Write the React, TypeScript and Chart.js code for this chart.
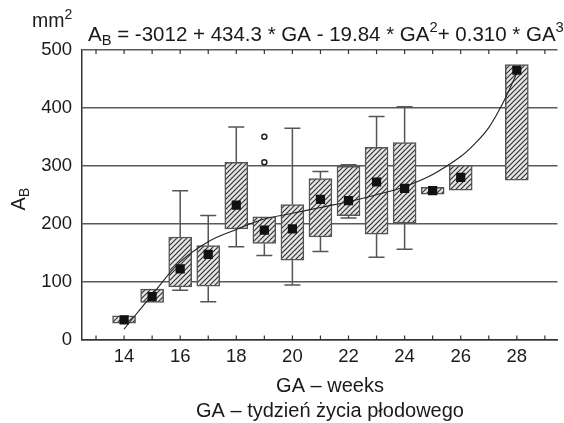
import { useEffect, useRef } from "react";
import { Chart, registerables } from "chart.js";
Chart.register(...registerables);

const weeks = [14, 15, 16, 17, 18, 19, 20, 21, 22, 23, 24, 25, 26, 28];
const q1 = [28, 64, 91, 92, 191, 166, 137, 177, 214, 182, 201, 251, 258, 275];
const q3 = [41, 87, 177, 162, 306, 212, 233, 278, 299, 332, 340, 263, 301, 475];
const medians = [34, 74, 122, 147, 232, 189, 191, 242, 240, 272, 261, 257, 280, 465];
const whiskerLow = [28, 64, 85, 65, 160, 145, 94, 152, 210, 142, 156, 251, 258, 275];
const whiskerHigh = [41, 87, 257, 214, 367, 212, 365, 290, 302, 385, 402, 263, 301, 475];
const outlierWeeks = [19, 19];
const outlierValues = [350, 306];
const curveWeeks = [14, 15, 16, 17, 18, 19, 20, 21, 22, 23, 24, 25, 26, 26.5, 27, 27.5, 28];
const curveValues = [18, 77, 134, 169, 190, 208, 218, 228, 238, 250, 264, 285, 316, 338, 366, 408, 460];
const xTickLabels = [14, 16, 18, 20, 22, 24, 26, 28];
const minorTickWeeks = [13, 14, 15, 16, 17, 18, 19, 20, 21, 22, 23, 24, 25, 26, 27, 28, 29];

const FONT = '"Liberation Sans", Arial, Helvetica, sans-serif';

function makePattern(): CanvasPattern | string {
  const c = document.createElement("canvas");
  c.width = 5;
  c.height = 5;
  const g = c.getContext("2d");
  if (!g) return "#aaa";
  g.fillStyle = "#e6e6e6";
  g.fillRect(0, 0, 5, 5);
  g.strokeStyle = "#333";
  g.lineWidth = 1.2;
  g.beginPath();
  g.moveTo(-1, 6);
  g.lineTo(6, -1);
  g.moveTo(-1, 1);
  g.lineTo(1, -1);
  g.moveTo(4, 6);
  g.lineTo(6, 4);
  g.stroke();
  const p = g.createPattern(c, "repeat");
  return p || "#aaa";
}

const whiskerPlugin = {
  id: "whiskers",
  beforeDatasetsDraw(chart: any) {
    const { ctx, scales } = chart;
    const xs = scales.x;
    const ys = scales.y;
    ctx.save();
    ctx.strokeStyle = "#555";
    ctx.lineWidth = 1.5;
    const cap = 8;
    weeks.forEach((w, i) => {
      const x = xs.getPixelForValue(w);
      if (whiskerHigh[i] > q3[i]) {
        const y1 = ys.getPixelForValue(q3[i]);
        const y2 = ys.getPixelForValue(whiskerHigh[i]);
        ctx.beginPath();
        ctx.moveTo(x, y1);
        ctx.lineTo(x, y2);
        ctx.moveTo(x - cap, y2);
        ctx.lineTo(x + cap, y2);
        ctx.stroke();
      }
      if (whiskerLow[i] < q1[i]) {
        const y1 = ys.getPixelForValue(q1[i]);
        const y2 = ys.getPixelForValue(whiskerLow[i]);
        ctx.beginPath();
        ctx.moveTo(x, y1);
        ctx.lineTo(x, y2);
        ctx.moveTo(x - cap, y2);
        ctx.lineTo(x + cap, y2);
        ctx.stroke();
      }
    });
    ctx.restore();
  },
};

function drawRich(ctx: CanvasRenderingContext2D, parts: [string, string][], x: number, y: number, size: number) {
  let cx = x;
  parts.forEach(([t, kind]) => {
    let fs = size;
    let dy = 0;
    if (kind === "sub") {
      fs = size * 0.72;
      dy = size * 0.2;
    } else if (kind === "sup") {
      fs = size * 0.72;
      dy = -size * 0.42;
    }
    ctx.font = `${fs}px ${FONT}`;
    ctx.fillText(t, cx, y + dy);
    cx += ctx.measureText(t).width;
  });
  return cx - x;
}

function measureRich(ctx: CanvasRenderingContext2D, parts: [string, string][], size: number) {
  let w = 0;
  parts.forEach(([t, kind]) => {
    const fs = kind === "normal" ? size : size * 0.72;
    ctx.font = `${fs}px ${FONT}`;
    w += ctx.measureText(t).width;
  });
  return w;
}

const textPlugin = {
  id: "texts",
  afterDraw(chart: any) {
    const { ctx, scales, chartArea } = chart;
    const xs = scales.x;
    ctx.save();
    ctx.strokeStyle = "#333";
    ctx.lineWidth = 1.2;
    minorTickWeeks.forEach((w) => {
      const x = xs.getPixelForValue(w);
      ctx.beginPath();
      ctx.moveTo(x, chartArea.bottom);
      ctx.lineTo(x, chartArea.bottom - 4);
      ctx.moveTo(x, chartArea.top);
      ctx.lineTo(x, chartArea.top + 4);
      ctx.stroke();
    });
    ctx.fillStyle = "#1a1a1a";
    ctx.textBaseline = "alphabetic";
    ctx.textAlign = "left";
    drawRich(ctx, [["mm", "normal"], ["2", "sup"]], 32, 27, 19.5);
    const formula: [string, string][] = [
      ["A", "normal"],
      ["B", "sub"],
      [" = -3012 + 434.3 * GA - 19.84 * GA", "normal"],
      ["2", "sup"],
      ["+ 0.310 * GA", "normal"],
      ["3", "sup"],
    ];
    drawRich(ctx, formula, 88, 41, 20.5);
    ctx.save();
    ctx.translate(25, 199);
    ctx.rotate(-Math.PI / 2);
    const yt: [string, string][] = [["A", "normal"], ["B", "sub"]];
    const yw = measureRich(ctx, yt, 20);
    drawRich(ctx, yt, -yw / 2, 0, 20);
    ctx.restore();
    ctx.textAlign = "center";
    ctx.font = `20px ${FONT}`;
    ctx.fillText("GA – weeks", 330, 392);
    ctx.fillText("GA – tydzień życia płodowego", 330, 417);
    ctx.restore();
  },
};

export default function App() {
  const ref = useRef<HTMLCanvasElement | null>(null);
  useEffect(() => {
    if (!ref.current) return;
    const pattern = makePattern();
    const chart = new Chart(ref.current, {
      type: "bar",
      data: {
        datasets: [
          {
            type: "bar",
            data: weeks.map((w, i) => ({ x: w, y: [q1[i], q3[i]] })) as any,
            backgroundColor: pattern as any,
            borderColor: "#555",
            borderWidth: 1.5,
            borderSkipped: false,
            barThickness: 23,
            order: 3,
          } as any,
          {
            type: "line",
            data: curveWeeks.map((w, i) => ({ x: w, y: curveValues[i] })),
            borderColor: "#222",
            borderWidth: 1.1,
            pointRadius: 0,
            tension: 0.4,
            fill: false,
            order: 2,
          } as any,
          {
            type: "line",
            data: weeks.map((w, i) => ({ x: w, y: medians[i] })),
            showLine: false,
            pointStyle: "rect",
            pointRadius: 6.5,
            pointBackgroundColor: "#111",
            pointBorderWidth: 0,
            order: 1,
          } as any,
          {
            type: "line",
            data: outlierWeeks.map((w, i) => ({ x: w, y: outlierValues[i] })),
            showLine: false,
            pointStyle: "circle",
            pointRadius: 2.5,
            pointBackgroundColor: "#fff",
            pointBorderColor: "#222",
            pointBorderWidth: 1.5,
            order: 1,
          } as any,
        ],
      },
      options: {
        animation: false,
        responsive: false,
        maintainAspectRatio: false,
        layout: { padding: { top: 50, left: 0, right: 0, bottom: 0 } },
        plugins: { legend: { display: false }, tooltip: { enabled: false } },
        scales: {
          x: {
            type: "linear",
            min: 12.5,
            max: 29.45,
            offset: false,
            grid: { display: false, drawTicks: false },
            border: { display: true, color: "#333", width: 1.5 },
            ticks: { font: { size: 18.5, family: FONT }, color: "#1a1a1a", padding: 6, autoSkip: false, maxRotation: 0 },
            afterBuildTicks: (s: any) => {
              s.ticks = xTickLabels.map((v) => ({ value: v }));
            },
            afterFit: (s: any) => {
              s.height = 83.5;
            },
          },
          y: {
            min: 0,
            max: 500,
            ticks: { stepSize: 100, font: { size: 18.5, family: FONT }, color: "#1a1a1a", padding: 10 },
            grid: { color: "#5a5a5a", lineWidth: 1.5, drawTicks: false },
            border: { display: true, color: "#333", width: 1.5 },
            afterFit: (s: any) => {
              s.width = 82;
            },
          },
        },
      },
      plugins: [whiskerPlugin, textPlugin],
    } as any);
    return () => chart.destroy();
  }, []);
  return (
    <div style={{ position: "fixed", left: 0, top: 0, width: 564, height: 423, background: "#fff" }}>
      <canvas ref={ref} width={564} height={423} style={{ display: "block", width: 564, height: 423 }} />
    </div>
  );
}
